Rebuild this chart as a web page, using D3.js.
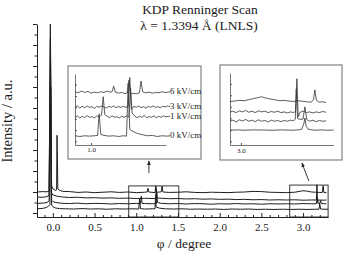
<!DOCTYPE html>
<html><head><meta charset="utf-8">
<script src="https://cdn.jsdelivr.net/npm/d3@7"></script>
<style>
body{margin:0;background:#fff}
svg{display:block}
text{font-family:"Liberation Serif","Times New Roman",Times,"DejaVu Serif",serif;fill:#1a1a1a}
</style>
</head><body>
<svg id="c" width="346" height="255"></svg>
<script>
// ---------- data ----------
const titleLines = ["KDP Renninger Scan", "λ = 1.3394 Å (LNLS)"];
const xLabel = "φ / degree";
const yLabel = "Intensity / a.u.";
const fieldLabels = ["6 kV/cm", "3 kV/cm", "1 kV/cm", "0 kV/cm"];

const xTicksMain = [0.0, 0.5, 1.0, 1.5, 2.0, 2.5, 3.0];
const xMinorMain = [-0.1, 0.1, 0.2, 0.3, 0.4, 0.6, 0.7, 0.8, 0.9, 1.1, 1.2, 1.3, 1.4, 1.6, 1.7, 1.8, 1.9, 2.1, 2.2, 2.3, 2.4, 2.6, 2.7, 2.8, 2.9, 3.1, 3.2];
const yTicksMain = [0, 1, 2, 3, 4, 5, 6, 7, 8, 9];
const yMinorMain = [0.5, 1.5, 2.5, 3.5, 4.5, 5.5, 6.5, 7.5, 8.5];

// main scan traces [phi, intensity]
const main6 = [[-0.19,1.00],[-0.12,1.02],[-0.07,1.01],[-0.045,1.05],[-0.03,8.3],[-0.015,1.3],[0.0,1.15],[0.03,1.08],[0.045,1.1],[0.05,3.7],[0.06,1.15],[0.08,1.08],[0.12,1.03],[0.2,1.02],[0.3,0.98],[0.4,1.0],[0.5,0.97],[0.6,0.99],[0.7,1.01],[0.8,0.98],[0.9,1.0],[1.0,0.97],[1.1,0.99],[1.13,1.0],[1.14,1.18],[1.15,1.0],[1.2,0.98],[1.225,0.97],[1.235,1.3],[1.245,0.99],[1.28,1.0],[1.3,1.01],[1.31,1.28],[1.32,1.0],[1.4,0.98],[1.5,0.99],[1.6,1.01],[1.7,0.98],[1.8,0.97],[1.9,0.99],[2.0,0.98],[2.1,0.97],[2.2,0.99],[2.3,1.0],[2.4,1.03],[2.5,1.02],[2.6,0.99],[2.7,0.98],[2.8,0.97],[2.9,0.99],[3.0,1.06],[3.05,1.04],[3.1,1.0],[3.15,0.99],[3.2,0.98],[3.23,0.98],[3.24,1.3],[3.25,0.98],[3.28,0.97]];
const main3 = [[-0.19,0.76],[-0.12,0.75],[-0.07,0.78],[-0.045,0.85],[-0.03,9.0],[-0.02,1.0],[0.0,0.86],[0.05,0.8],[0.12,0.76],[0.2,0.74],[0.3,0.75],[0.4,0.72],[0.5,0.73],[0.6,0.71],[0.7,0.72],[0.8,0.7],[0.9,0.71],[1.0,0.69],[1.1,0.7],[1.2,0.69],[1.23,0.7],[1.24,1.15],[1.25,0.72],[1.3,0.7],[1.4,0.68],[1.5,0.69],[1.6,0.67],[1.7,0.68],[1.8,0.66],[1.9,0.67],[2.0,0.65],[2.1,0.66],[2.2,0.64],[2.3,0.65],[2.4,0.63],[2.5,0.64],[2.6,0.62],[2.7,0.63],[2.8,0.62],[2.9,0.63],[3.0,0.61],[3.1,0.62],[3.16,0.62],[3.166,1.35],[3.172,0.5],[3.18,0.62],[3.25,0.61],[3.28,0.62]];
const main1 = [[-0.19,0.46],[-0.12,0.47],[-0.07,0.5],[-0.045,0.58],[-0.028,8.2],[-0.015,0.6],[0.0,0.54],[0.05,0.49],[0.12,0.46],[0.2,0.45],[0.3,0.47],[0.4,0.44],[0.5,0.46],[0.6,0.45],[0.7,0.43],[0.8,0.45],[0.9,0.44],[1.0,0.46],[1.05,0.44],[1.06,0.8],[1.07,0.46],[1.1,0.45],[1.2,0.44],[1.24,0.45],[1.245,0.95],[1.255,0.5],[1.3,0.46],[1.4,0.44],[1.5,0.45],[1.6,0.43],[1.7,0.45],[1.8,0.44],[1.9,0.42],[2.0,0.44],[2.1,0.43],[2.2,0.45],[2.3,0.43],[2.4,0.44],[2.5,0.42],[2.6,0.44],[2.7,0.43],[2.8,0.44],[2.9,0.43],[3.0,0.45],[3.1,0.44],[3.16,0.44],[3.17,0.75],[3.18,0.46],[3.2,0.45],[3.21,0.6],[3.22,0.45],[3.28,0.44]];
const main0 = [[-0.19,0.2],[-0.12,0.22],[-0.08,0.26],[-0.05,0.33],[-0.035,0.4],[-0.025,6.0],[-0.015,0.38],[0.0,0.3],[0.03,0.24],[0.08,0.21],[0.15,0.2],[0.25,0.19],[0.35,0.21],[0.45,0.19],[0.55,0.2],[0.65,0.18],[0.75,0.2],[0.85,0.19],[0.95,0.2],[1.03,0.19],[1.04,0.68],[1.05,0.21],[1.1,0.19],[1.2,0.2],[1.225,0.2],[1.23,0.7],[1.24,0.28],[1.28,0.23],[1.35,0.2],[1.45,0.19],[1.55,0.2],[1.65,0.18],[1.75,0.19],[1.85,0.18],[1.95,0.19],[2.05,0.17],[2.15,0.19],[2.25,0.18],[2.35,0.19],[2.45,0.17],[2.55,0.18],[2.65,0.17],[2.75,0.18],[2.85,0.17],[2.95,0.18],[3.05,0.17],[3.15,0.18],[3.19,0.18],[3.2,0.45],[3.21,0.19],[3.25,0.18],[3.3,0.18]];

// left inset (around 1.0 - 1.5 deg)
const inL6 = [[0.90,7.5],[0.92,7.35],[0.94,7.6],[0.96,7.4],[0.98,7.55],[1.00,7.3],[1.02,7.45],[1.04,7.35],[1.06,7.5],[1.08,7.4],[1.10,7.6],[1.12,7.45],[1.13,7.5],[1.14,8.3],[1.15,7.45],[1.17,7.3],[1.19,7.4],[1.21,7.25],[1.225,7.35],[1.235,9.15],[1.245,7.1],[1.26,7.3],[1.28,7.2],[1.30,7.35],[1.31,9.0],[1.32,7.5],[1.34,7.35],[1.36,7.45],[1.38,7.3],[1.40,7.4],[1.42,7.35],[1.44,7.5],[1.46,7.4],[1.48,7.45],[1.49,7.5]];
const inL3 = [[0.90,5.3],[0.915,5.5],[0.93,5.2],[0.945,5.45],[0.96,5.25],[0.975,5.5],[0.99,5.3],[1.005,5.4],[1.02,5.15],[1.035,5.45],[1.05,5.3],[1.065,5.5],[1.08,5.35],[1.095,5.2],[1.11,5.45],[1.125,5.3],[1.14,5.5],[1.155,5.25],[1.17,5.4],[1.185,5.3],[1.20,5.45],[1.215,5.3],[1.23,5.4],[1.24,9.5],[1.25,5.0],[1.265,5.45],[1.28,5.3],[1.295,5.5],[1.31,5.25],[1.325,5.4],[1.34,5.2],[1.355,5.45],[1.37,5.3],[1.385,5.5],[1.40,5.3],[1.415,5.4],[1.43,5.25],[1.445,5.45],[1.46,5.35],[1.475,5.5],[1.49,5.4]];
const inL1 = [[0.90,3.9],[0.915,4.1],[0.93,3.8],[0.945,4.05],[0.96,3.85],[0.975,4.15],[0.99,3.9],[1.005,4.0],[1.02,3.8],[1.035,4.1],[1.05,3.95],[1.065,4.2],[1.075,6.8],[1.085,4.3],[1.10,4.05],[1.115,3.85],[1.13,4.1],[1.145,3.9],[1.16,4.0],[1.175,3.8],[1.19,4.05],[1.205,3.9],[1.22,4.1],[1.235,3.95],[1.245,8.0],[1.255,4.5],[1.27,4.1],[1.285,3.85],[1.30,4.05],[1.315,3.9],[1.33,4.15],[1.345,3.85],[1.36,4.0],[1.375,3.9],[1.39,4.1],[1.405,3.85],[1.42,4.05],[1.435,3.9],[1.45,4.1],[1.465,3.95],[1.48,4.05],[1.49,4.0]];
const inL0 = [[0.90,1.3],[0.93,1.2],[0.96,1.3],[0.99,1.25],[1.02,1.3],[1.04,1.35],[1.05,4.4],[1.06,1.5],[1.08,1.35],[1.11,1.25],[1.14,1.3],[1.17,1.2],[1.20,1.3],[1.22,1.25],[1.23,8.7],[1.24,2.2],[1.26,1.9],[1.29,1.6],[1.32,1.45],[1.35,1.3],[1.38,1.35],[1.41,1.2],[1.44,1.3],[1.47,1.25],[1.49,1.3]];

// right inset (around 3.0 - 3.3 deg)
const inR6 = [[2.966,6.05],[2.98,6.1],[2.995,6.2],[3.01,6.15],[3.025,6.3],[3.04,6.45],[3.055,6.6],[3.065,6.7],[3.075,6.55],[3.09,6.4],[3.105,6.3],[3.12,6.15],[3.135,6.2],[3.15,6.1],[3.165,6.05],[3.175,6.15],[3.19,6.1],[3.205,6.0],[3.22,5.95],[3.227,6.3],[3.231,7.65],[3.236,6.2],[3.245,5.95],[3.255,6.0],[3.266,5.9]];
const inR3 = [[2.966,4.55],[2.975,4.7],[2.985,4.5],[2.995,4.75],[3.005,4.6],[3.015,4.8],[3.025,4.55],[3.035,4.7],[3.045,4.5],[3.055,4.75],[3.065,4.6],[3.075,4.7],[3.085,4.5],[3.095,4.65],[3.105,4.55],[3.115,4.7],[3.125,4.5],[3.135,4.6],[3.145,4.45],[3.155,4.6],[3.165,4.5],[3.171,4.7],[3.175,9.2],[3.179,3.9],[3.185,4.55],[3.195,4.7],[3.205,4.5],[3.215,4.6],[3.225,4.45],[3.235,4.6],[3.245,4.5],[3.255,4.65],[3.266,4.55]];
const inR1 = [[2.966,3.3],[2.975,3.45],[2.985,3.2],[2.995,3.5],[3.005,3.35],[3.015,3.55],[3.025,3.3],[3.035,3.45],[3.045,3.25],[3.055,3.5],[3.065,3.3],[3.075,3.4],[3.085,3.2],[3.095,3.45],[3.105,3.3],[3.115,3.4],[3.125,3.25],[3.135,3.4],[3.145,3.3],[3.155,3.45],[3.165,3.35],[3.17,3.6],[3.173,7.8],[3.177,3.7],[3.185,3.55],[3.194,3.6],[3.2,5.3],[3.206,3.5],[3.215,3.3],[3.225,3.45],[3.235,3.25],[3.245,3.4],[3.255,3.3],[3.266,3.35]];
const inR0 = [[2.966,2.05],[2.99,2.1],[3.01,2.05],[3.04,2.1],[3.07,2.08],[3.1,2.05],[3.13,2.1],[3.16,2.05],[3.18,2.1],[3.19,2.2],[3.197,3.0],[3.2,3.75],[3.204,2.6],[3.21,2.2],[3.23,2.05],[3.25,2.1],[3.27,2.05],[3.29,2.08]];

const insetLTicks = [1.0];
const insetRTicks = [3.0];
const insetYTicks = [0.5, 2.1, 3.7, 5.3, 6.9, 8.5];

// zoom boxes in main plot [phiMin, phiMax, iMin, iMax]
const boxL = [0.91, 1.51, -0.19, 1.29];
const boxR = [2.84, 3.30, -0.19, 1.33];
// arrows [phiFrom, iFrom, phiTo, iTo] (head at "to")
const arrows = [[1.152, 1.90, 1.152, 2.48], [3.07, 1.52, 2.986, 2.38]];

// ---------- drawing ----------
const FONT = '"Liberation Serif","Times New Roman",Times,"DejaVu Serif",serif';
const svg = d3.select("#c");
const defs = svg.append("defs");
defs.append("marker").attr("id","ah").attr("viewBox","0 0 10 10").attr("refX",9).attr("refY",5)
  .attr("markerWidth",5).attr("markerHeight",5).attr("orient","auto")
  .append("path").attr("d","M0,1 L10,5 L0,9 Z").attr("fill","#222");

const x = d3.scaleLinear().domain([-0.19, 3.30]).range([37, 328.1]);
const y = d3.scaleLinear().domain([-0.19, 9.0]).range([217, 24]);

// titles
svg.append("text").attr("x",200).attr("y",14).attr("text-anchor","middle").attr("font-size","13.5px").attr("font-family",FONT).text(titleLines[0]);
svg.append("text").attr("x",199).attr("y",30).attr("text-anchor","middle").attr("font-size","13.5px").attr("font-family",FONT).text(titleLines[1]);

// axes
const gx = svg.append("g").attr("transform","translate(0,217)");
gx.call(d3.axisBottom(x).tickValues(xMinorMain).tickSize(-2).tickSizeOuter(0).tickFormat(""));
const gx2 = svg.append("g").attr("transform","translate(0,217)");
gx2.call(d3.axisBottom(x).tickValues(xTicksMain).tickSize(-4).tickSizeOuter(0).tickPadding(6).tickFormat(d3.format(".1f")));
gx2.select(".domain").remove();
gx2.attr("font-family",FONT);
gx2.selectAll("text").attr("font-size","11px").attr("font-family",FONT).attr("fill","#1a1a1a");
svg.selectAll(".tick line").attr("stroke","#222");
gx.select(".domain").attr("stroke","#222");

const gy = svg.append("g").attr("transform","translate(37,0)");
gy.call(d3.axisLeft(y).tickValues(yMinorMain).tickSize(2.5).tickSizeOuter(0).tickFormat(""));
const gy2 = svg.append("g").attr("transform","translate(37,0)");
gy2.call(d3.axisLeft(y).tickValues(yTicksMain).tickSize(4).tickSizeOuter(0).tickFormat(""));
gy2.select(".domain").remove();
svg.selectAll(".tick line").attr("stroke","#222");
gy.select(".domain").attr("stroke","#222");

svg.append("text").attr("x",184).attr("y",248).attr("text-anchor","middle").attr("font-size","13.5px").attr("font-family",FONT).text(xLabel);
svg.append("text").attr("transform","translate(12,121) rotate(-90)").attr("text-anchor","middle").attr("font-size","14.5px").attr("font-family",FONT).text(yLabel);

// main traces
const lineMain = d3.line().x(d=>x(d[0])).y(d=>y(d[1]));
[main0, main1, main3, main6].forEach(t=>{
  svg.append("path").attr("d",lineMain(t)).attr("fill","none").attr("stroke","#1e1e1e").attr("stroke-width",1);
});

// zoom boxes
[boxL, boxR].forEach(b=>{
  svg.append("rect").attr("x",x(b[0])).attr("y",y(b[3])).attr("width",x(b[1])-x(b[0])).attr("height",y(b[2])-y(b[3]))
    .attr("fill","none").attr("stroke","#222").attr("stroke-width",0.9);
});
// arrows
arrows.forEach(a=>{
  svg.append("line").attr("x1",x(a[0])).attr("y1",y(a[1])).attr("x2",x(a[2])).attr("y2",y(a[3]))
    .attr("stroke","#222").attr("stroke-width",0.9).attr("marker-end","url(#ah)");
});

// ---------- insets ----------
function inset(frame, xs, ys, traces, ticks, axisEnd, labelPad){
  svg.append("rect").attr("x",frame[0]).attr("y",frame[1]).attr("width",frame[2]).attr("height",frame[3])
    .attr("fill","#fff").attr("stroke","#8c8c8c").attr("stroke-width",1.3);
  const x0 = xs.range()[0], yb = ys.range()[0];
  const ga = svg.append("g").attr("transform",`translate(0,${yb})`);
  const xa = d3.scaleLinear().domain([xs.domain()[0], axisEnd]).range([x0, xs(axisEnd)]);
  ga.call(d3.axisBottom(xa).tickValues(ticks).tickSize(-2).tickSizeOuter(0).tickPadding(labelPad).tickFormat(d3.format(".1f")));
  ga.attr("font-family",FONT);
  ga.select(".domain").attr("stroke","#555").attr("stroke-width",0.8);
  ga.selectAll("text").attr("font-size","7px").attr("font-family",FONT).attr("fill","#333");
  ga.selectAll(".tick line").attr("stroke","#555");
  const gya = svg.append("g").attr("transform",`translate(${x0},0)`);
  gya.call(d3.axisRight(ys).tickValues(insetYTicks).tickSize(2).tickSizeOuter(0).tickFormat(""));
  gya.select(".domain").attr("stroke","#555").attr("stroke-width",0.8);
  gya.selectAll(".tick line").attr("stroke","#555");
  const ln = d3.line().x(d=>xs(d[0])).y(d=>ys(d[1]));
  traces.forEach(t=>{
    svg.append("path").attr("d",ln(t)).attr("fill","none").attr("stroke","#333").attr("stroke-width",0.8);
  });
}
const xL = d3.scaleLinear().domain([0.90, 1.465]).range([75, 166]);
const yL = d3.scaleLinear().domain([0, 10]).range([145, 74]);
inset([68,66,133,93], xL, yL, [inL0, inL1, inL3, inL6], insetLTicks, 1.465, 2);
const xR = d3.scaleLinear().domain([2.966, 3.29]).range([230, 333.7]);
const yR = d3.scaleLinear().domain([0, 10]).range([145, 73]);
inset([220,65,122,95], xR, yR, [inR0, inR1, inR3, inR6], insetRTicks, 3.29, 3);

// field labels in left inset
[inL6, inL3, inL1, inL0].forEach((t,i)=>{
  const last = t[t.length-1];
  svg.append("text").attr("x",xL(last[0])).attr("y",yL(last[1])+2.5).attr("font-size","9px").attr("font-family",FONT).attr("fill","#333").text(fieldLabels[i]);
});
</script>
</body></html>
